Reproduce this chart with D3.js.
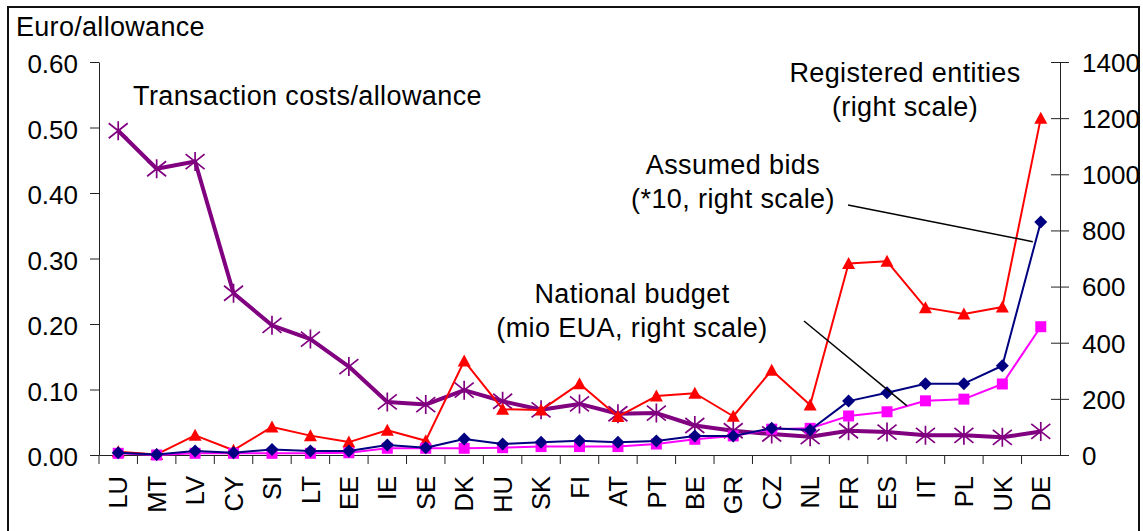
<!DOCTYPE html>
<html>
<head>
<meta charset="utf-8">
<script src="https://cdn.jsdelivr.net/npm/d3@7/dist/d3.min.js"></script>
<style>
  body { margin: 0; background: #fff; }
  svg { display: block; font-family: "Liberation Sans", Arial, sans-serif; }
</style>
</head>
<body>
<div id="chart"></div>
<script>
// member states, ordered as in the chart
const countries = ['LU', 'MT', 'LV', 'CY', 'SI', 'LT', 'EE', 'IE', 'SE', 'DK', 'HU', 'SK', 'FI',
  'AT', 'PT', 'BE', 'GR', 'CZ', 'NL', 'FR', 'ES', 'IT', 'PL', 'UK', 'DE']

// left scale, euro per allowance
const costPerAllowance = [0.495, 0.437, 0.448, 0.247, 0.198, 0.177, 0.135, 0.081, 0.077, 0.099, 0.082,
  0.069, 0.078, 0.063, 0.064, 0.045, 0.037, 0.032, 0.028, 0.037, 0.035, 0.030, 0.030, 0.027, 0.036]

// right scale
const registeredEntities = [12, 2, 70, 17, 100, 69, 46, 88, 51, 335, 163, 160, 254, 137, 210, 220, 138,
  302, 178, 682, 690, 525, 502, 527, 1200]
const assumedBids = [8, 2, 14, 8, 20, 14, 14, 36, 26, 57, 39, 45, 51, 45, 50, 68, 68, 95, 89, 192, 222,
  254, 254, 318, 830]
const nationalBudget = [6, 0, 6, 6, 6, 6, 8, 24, 24, 24, 26, 30, 30, 30, 39, 56, 68, 92, 95, 139, 154,
  193, 199, 253, 457]

const leftTicks = [0, 0.1, 0.2, 0.3, 0.4, 0.5, 0.6]
const rightTicks = [0, 200, 400, 600, 800, 1000, 1200, 1400]

const width = 1143
const height = 531
const plot = { left: 99, right: 1060, top: 62, bottom: 455 }
const font = 26
const noteFont = 27

const x = d3.scaleBand().domain(countries).range([plot.left, plot.right])
const yLeft = d3.scaleLinear().domain([0, 0.6]).range([plot.bottom, plot.top])
const yRight = d3.scaleLinear().domain([0, 1400]).range([plot.bottom, plot.top])
const cx = d => x(d) + x.bandwidth() / 2

const svg = d3.select('#chart').append('svg').attr('width', width).attr('height', height)

// outer frame (runs off the bottom like the original)
svg.append('rect')
  .attr('x', 8).attr('y', 7).attr('width', 1131).attr('height', 560)
  .attr('fill', 'none').attr('stroke', '#111').attr('stroke-width', 2)

// ----- axes -----
const leftAxis = svg.append('g')
  .attr('transform', `translate(${plot.left},0)`)
  .call(d3.axisLeft(yLeft).tickValues(leftTicks).tickFormat(d3.format('.2f'))
    .tickSize(9).tickSizeOuter(0).tickPadding(12))

const rightAxis = svg.append('g')
  .attr('transform', `translate(${plot.right},0)`)
  .call(d3.axisRight(yRight).tickValues(rightTicks).tickFormat(d3.format('d'))
    .tickSize(9).tickSizeOuter(0).tickPadding(13))
// right ticks cross the axis line
rightAxis.selectAll('.tick line').attr('x1', -9)

const bottomAxis = svg.append('g')
  .attr('transform', `translate(0,${plot.bottom})`)
  .call(d3.axisBottom(x).tickSize(0).tickSizeOuter(0).tickPadding(0))
bottomAxis.selectAll('.tick text')
  .attr('transform', 'rotate(-90)')
  .attr('text-anchor', 'end')
  .attr('x', -21)
  .attr('y', 0)
  .attr('dy', '0.36em')

// category separators at band edges
bottomAxis.selectAll('.sep')
  .data(countries)
  .enter().append('line')
  .attr('class', 'sep')
  .attr('x1', d => x(d)).attr('x2', d => x(d))
  .attr('y1', 0).attr('y2', 9)
  .attr('stroke', '#222')

;[leftAxis, rightAxis, bottomAxis].forEach(a => {
  a.attr('font-family', null).attr('font-size', null)
  a.selectAll('text').attr('fill', '#000').style('font-size', font + 'px')
  a.selectAll('.domain, line').attr('stroke', '#222')
})
leftAxis.selectAll('.tick text').attr('dy', '0.42em')
rightAxis.selectAll('.tick text').attr('dy', '0.36em')
bottomAxis.selectAll('.tick text').style('font-size', '25.5px')

svg.append('text')
  .attr('x', 16).attr('y', 36)
  .attr('font-size', noteFont)
  .attr('letter-spacing', 0.3)
  .text('Euro/allowance')

// ----- series -----
function series (values, scale) {
  return values.map((v, i) => ({ c: countries[i], v, y: scale(v) }))
}

const lineGen = d3.line().x(d => cx(d.c)).y(d => d.y)

const costs = series(costPerAllowance, yLeft)
const entities = series(registeredEntities, yRight)
const budget = series(nationalBudget, yRight)
const bids = series(assumedBids, yRight)

function drawLine (data, color, w) {
  svg.append('path').datum(data)
    .attr('d', lineGen)
    .attr('fill', 'none')
    .attr('stroke', color)
    .attr('stroke-width', w)
    .attr('stroke-linejoin', 'round')
}

function drawMarkers (data, shape, color, stroke) {
  svg.append('g').selectAll('path')
    .data(data)
    .enter().append('path')
    .attr('transform', d => `translate(${cx(d.c)},${d.y})`)
    .attr('d', shape)
    .attr('fill', stroke ? 'none' : color)
    .attr('stroke', stroke ? color : 'none')
    .attr('stroke-width', stroke || 0)
}

const star = 'M0,-9.5L0,9.5M-9.5,-7.5L9.5,7.5M-9.5,7.5L9.5,-7.5'
const triangle = 'M0,-6.5L6.5,5.5L-6.5,5.5Z'
const square = 'M-5.5,-5.5H5.5V5.5H-5.5Z'
const diamond = 'M0,-6.5L6.5,0L0,6.5L-6.5,0Z'

drawLine(costs, '#800080', 4)
drawMarkers(costs, star, '#800080', 1.7)

drawLine(entities, '#ff0000', 2)
drawMarkers(entities, triangle, '#ff0000')

drawLine(budget, '#ff00ff', 2)
drawMarkers(budget, square, '#ff00ff')

drawLine(bids, '#000080', 2)
drawMarkers(bids, diamond, '#000080')

// ----- annotations -----
const notes = [
  { lines: ['Transaction costs/allowance'], x: 133, y: 105, anchor: 'start' },
  { lines: ['Registered entities', '(right scale)'], x: 905, y: 82, anchor: 'middle' },
  { lines: ['Assumed bids', '(*10, right scale)'], x: 733, y: 174, anchor: 'middle' },
  { lines: ['National budget', '(mio EUA, right scale)'], x: 632, y: 303, anchor: 'middle' }
]
notes.forEach(n => {
  const t = svg.append('text')
    .attr('x', n.x).attr('y', n.y)
    .attr('text-anchor', n.anchor)
    .attr('font-size', noteFont)
    .attr('letter-spacing', 0.4)
  n.lines.forEach((l, i) => {
    t.append('tspan').attr('x', n.x).attr('dy', i ? 34 : 0).text(l)
  })
})

// leader lines from the labels to their series
const leaders = [
  { from: [848, 205], to: [cx('DE') - 8, yRight(760)] },
  { from: [804, 321], to: [907, yRight(175)] }
]
leaders.forEach(l => {
  svg.append('line')
    .attr('x1', l.from[0]).attr('y1', l.from[1])
    .attr('x2', l.to[0]).attr('y2', l.to[1])
    .attr('stroke', '#000').attr('stroke-width', 1.5)
})
</script>
</body>
</html>
